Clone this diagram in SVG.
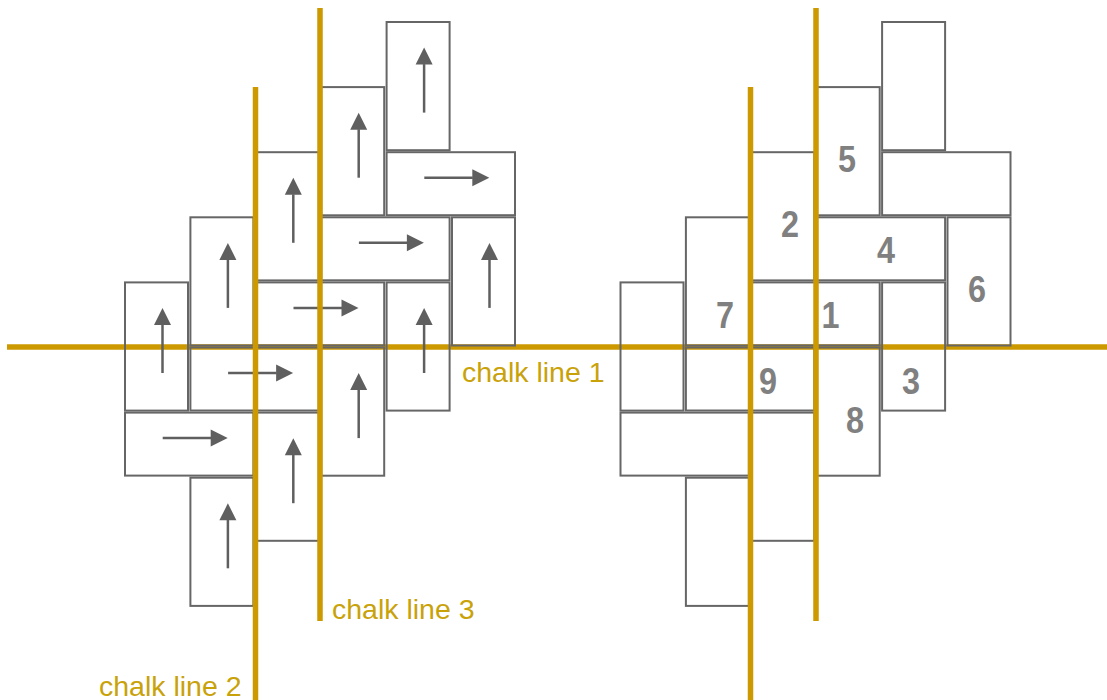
<svg xmlns="http://www.w3.org/2000/svg" xmlns:xlink="http://www.w3.org/1999/xlink" width="1107" height="700" viewBox="0 0 1107 700">
<style>
.tile{fill:none;stroke:#666666;stroke-width:2}
.chalk{stroke:#CC9900;stroke-width:5.5;fill:none}
.lbl{font-family:"Liberation Sans",Arial,sans-serif;font-size:28.5px;fill:#C9A20A}
.num{font-family:"Liberation Sans",Arial,sans-serif;font-weight:bold;font-size:37px;fill:#808080;text-anchor:middle}
.shaft{stroke:#5f5f5f;stroke-width:2.5}
.head{fill:#5f5f5f}
</style>
<defs>
<g id="up"><line class="shaft" x1="0" y1="32.5" x2="0" y2="-16"/><polygon class="head" points="0,-32.5 -8.5,-15.5 8.5,-15.5"/></g>
<g id="right"><line class="shaft" x1="-32.5" y1="0" x2="16" y2="0"/><polygon class="head" points="32.5,0 15.5,-8.5 15.5,8.5"/></g>
</defs>
<rect width="1107" height="700" fill="#ffffff"/>
<g id="connectors">
<line id="chalk-line-1" class="chalk" x1="7" y1="347" x2="1107" y2="347"/>
</g>
<g id="left-figure">
<g id="L1"><rect class="tile" x="386.6" y="22" width="63" height="128.2"/><use xlink:href="#up" x="424.1" y="80.1"/></g>
<g id="L2"><rect class="tile" x="321.2" y="87.1" width="63" height="128.2"/><use xlink:href="#up" x="358.7" y="145.2"/></g>
<g id="L3"><rect class="tile" x="386.6" y="152.2" width="128.4" height="63"/><use xlink:href="#right" x="456.8" y="177.7"/></g>
<g id="L4"><rect class="tile" x="255.8" y="152.2" width="63" height="128.2"/><use xlink:href="#up" x="293.3" y="210.3"/></g>
<g id="L5"><rect class="tile" x="321.2" y="217.3" width="128.4" height="63"/><use xlink:href="#right" x="391.4" y="242.8"/></g>
<g id="L6"><rect class="tile" x="452" y="217.3" width="63" height="128.2"/><use xlink:href="#up" x="489.5" y="275.4"/></g>
<g id="L7"><rect class="tile" x="190.4" y="217.3" width="63" height="128.2"/><use xlink:href="#up" x="227.9" y="275.4"/></g>
<g id="L8"><rect class="tile" x="125" y="282.4" width="63" height="128.2"/><use xlink:href="#up" x="162.5" y="340.5"/></g>
<g id="L9"><rect class="tile" x="255.8" y="282.4" width="128.4" height="63"/><use xlink:href="#right" x="326" y="307.9"/></g>
<g id="L10"><rect class="tile" x="386.6" y="282.4" width="63" height="128.2"/><use xlink:href="#up" x="424.1" y="340.5"/></g>
<g id="L11"><rect class="tile" x="190.4" y="347.5" width="128.4" height="63"/><use xlink:href="#right" x="260.6" y="373"/></g>
<g id="L12"><rect class="tile" x="321.2" y="347.5" width="63" height="128.2"/><use xlink:href="#up" x="358.7" y="405.6"/></g>
<g id="L13"><rect class="tile" x="125" y="412.6" width="128.4" height="63"/><use xlink:href="#right" x="195.2" y="438.1"/></g>
<g id="L14"><rect class="tile" x="255.8" y="412.6" width="63" height="128.2"/><use xlink:href="#up" x="293.3" y="470.7"/></g>
<g id="L15"><rect class="tile" x="190.4" y="477.7" width="63" height="128.2"/><use xlink:href="#up" x="227.9" y="535.8"/></g>
</g>
<g id="right-figure" transform="translate(495.5 0)">
<g id="R1"><rect class="tile" x="386.6" y="22" width="63" height="128.2"/></g>
<g id="R2"><rect class="tile" x="321.2" y="87.1" width="63" height="128.2"/><text class="num" x="351.5" y="172" textLength="18" lengthAdjust="spacingAndGlyphs">5</text></g>
<g id="R3"><rect class="tile" x="386.6" y="152.2" width="128.4" height="63"/></g>
<g id="R4"><rect class="tile" x="255.8" y="152.2" width="63" height="128.2"/><text class="num" x="294.5" y="237" textLength="18" lengthAdjust="spacingAndGlyphs">2</text></g>
<g id="R5"><rect class="tile" x="321.2" y="217.3" width="128.4" height="63"/><text class="num" x="390.5" y="263" textLength="18" lengthAdjust="spacingAndGlyphs">4</text></g>
<g id="R6"><rect class="tile" x="452" y="217.3" width="63" height="128.2"/><text class="num" x="481.5" y="302" textLength="18" lengthAdjust="spacingAndGlyphs">6</text></g>
<g id="R7"><rect class="tile" x="190.4" y="217.3" width="63" height="128.2"/><text class="num" x="229.5" y="328" textLength="18" lengthAdjust="spacingAndGlyphs">7</text></g>
<g id="R8"><rect class="tile" x="125" y="282.4" width="63" height="128.2"/></g>
<g id="R9"><rect class="tile" x="255.8" y="282.4" width="128.4" height="63"/><text class="num" x="335" y="328" textLength="18" lengthAdjust="spacingAndGlyphs">1</text></g>
<g id="R10"><rect class="tile" x="386.6" y="282.4" width="63" height="128.2"/><text class="num" x="415.5" y="394" textLength="18" lengthAdjust="spacingAndGlyphs">3</text></g>
<g id="R11"><rect class="tile" x="190.4" y="347.5" width="128.4" height="63"/><text class="num" x="272.5" y="394" textLength="18" lengthAdjust="spacingAndGlyphs">9</text></g>
<g id="R12"><rect class="tile" x="321.2" y="347.5" width="63" height="128.2"/><text class="num" x="359.5" y="433" textLength="18" lengthAdjust="spacingAndGlyphs">8</text></g>
<g id="R13"><rect class="tile" x="125" y="412.6" width="128.4" height="63"/></g>
<g id="R14"><rect class="tile" x="255.8" y="412.6" width="63" height="128.2"/></g>
<g id="R15"><rect class="tile" x="190.4" y="477.7" width="63" height="128.2"/></g>
</g>
<g id="chalk-verticals">
<line id="chalk-line-2" class="chalk" x1="255.5" y1="87" x2="255.5" y2="700"/>
<line id="chalk-line-3" class="chalk" x1="320" y1="8" x2="320" y2="621"/>
<line id="chalk-line-2b" class="chalk" x1="750.5" y1="87" x2="750.5" y2="700"/>
<line id="chalk-line-3b" class="chalk" x1="816" y1="8" x2="816" y2="621"/>
</g>
<g id="labels">
<text class="lbl" x="462" y="382">chalk line 1</text>
<text class="lbl" x="332" y="619">chalk line 3</text>
<text class="lbl" x="99" y="696">chalk line 2</text>
</g>
</svg>
